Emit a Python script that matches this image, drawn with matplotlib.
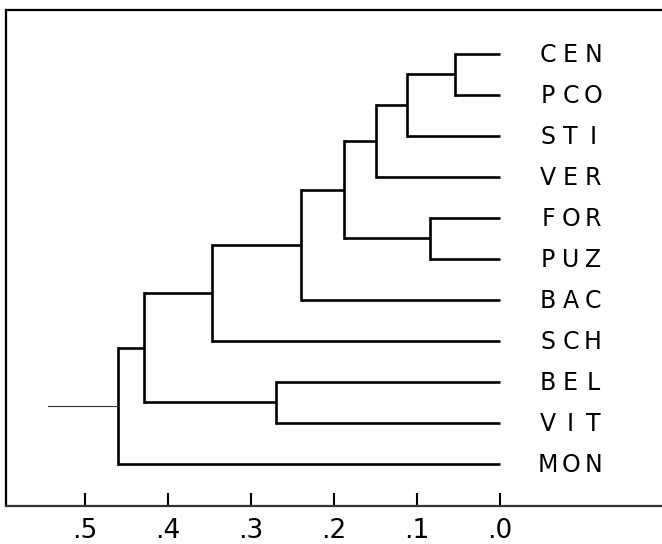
import matplotlib
matplotlib.use("Agg")
import matplotlib.pyplot as plt
from matplotlib import transforms

# ---- data ----
leaves = ["CEN", "PCO", "STI", "VER", "FOR", "PUZ", "BAC", "SCH", "BEL", "VIT", "MON"]
# merges: (child a, child b, height); children are leaf names or merge index (int)
merge_a = ["CEN", 0, 1, "FOR", 2, 4, 5, "BEL", 6, 8]
merge_b = ["PCO", "STI", "VER", "PUZ", 3, "BAC", "SCH", "VIT", 7, "MON"]
merge_h = [0.054, 0.112, 0.149, 0.084, 0.188, 0.240, 0.347, 0.270, 0.429, 0.460]
root_stem = 0.545
tick_vals = [0.5, 0.4, 0.3, 0.2, 0.1, 0.0]
tick_labels = [".5", ".4", ".3", ".2", ".1", ".0"]

W, H = 662, 544
fig = plt.figure(figsize=(W / 100, H / 100), dpi=100)
left_px, top_px, bottom_px = 6.3, 10.4, 505.5
ax = fig.add_axes([left_px / W, 1 - bottom_px / H, 1 - left_px / W + 0.01, (bottom_px - top_px) / H])

px_per_unit = 830.0
leaf_px0, leaf_dy = 53.8, 41.02
ax.set_xlim((500 - left_px) / px_per_unit, (500 - (W + 6.6)) / px_per_unit)
ax.set_ylim((bottom_px - leaf_px0) / leaf_dy, (top_px - leaf_px0) / leaf_dy)

lw = 1.9
col = "black"
pos = {}
for i, name in enumerate(leaves):
    pos[name] = (0.0, float(i))

def get(c):
    return pos[c]

for k, (a, b, h) in enumerate(zip(merge_a, merge_b, merge_h)):
    xa, ya = get(a)
    xb, yb = get(b)
    ax.plot([xa, h], [ya, ya], color=col, lw=lw, solid_capstyle="butt")
    ax.plot([xb, h], [yb, yb], color=col, lw=lw, solid_capstyle="butt")
    ax.plot([h, h], [ya, yb], color=col, lw=lw, solid_capstyle="projecting")
    pos[k] = (h, (ya + yb) / 2)

rx, ry = pos[len(merge_h) - 1]
ax.plot([rx, root_stem], [ry, ry], color="#333333", lw=0.8)

# leaf labels, letter by letter in fixed cells
for i, name in enumerate(leaves):
    for j, ch in enumerate(name):
        tr = transforms.offset_copy(ax.transData, fig=fig, x=48 + 22.5 * j, y=-8.5, units="dots")
        ax.text(0.0, i, ch, transform=tr, ha="center", va="baseline",
                fontsize=17, family="DejaVu Sans", color="black")

ax.set_xticks(tick_vals)
ax.set_xticklabels(tick_labels, fontsize=19, family="DejaVu Sans")
ax.tick_params(axis="x", direction="in", length=9.5, width=1.5, pad=9, colors="black")
ax.set_yticks([])
ax.spines["right"].set_visible(False)
for s in ["left", "top", "bottom"]:
    ax.spines[s].set_linewidth(1.6)
ax.spines["bottom"].set_color("#333333")

fig.savefig("out.png", dpi=100)
